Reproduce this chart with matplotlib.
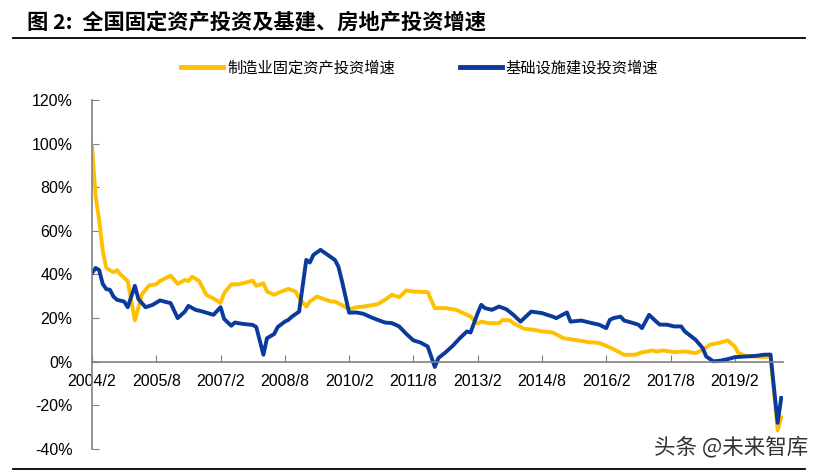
import matplotlib
matplotlib.use("Agg")
import matplotlib.pyplot as plt
from matplotlib.lines import Line2D

plt.rcParams['font.family'] = ['Liberation Sans', 'Noto Sans CJK SC', 'DejaVu Sans']

# 制造业固定资产投资增速 (累计同比, %)
mfg_dates = [
    "2004-02", "2004-03", "2004-04", "2004-05", "2004-06", "2004-07", "2004-08", "2004-09",
    "2004-10", "2004-12", "2005-02", "2005-03", "2005-04", "2005-06", "2005-08", "2005-09",
    "2005-12", "2006-02", "2006-04", "2006-05", "2006-06", "2006-08", "2006-10", "2006-12",
    "2007-02", "2007-03", "2007-05", "2007-07", "2007-09", "2007-11", "2007-12", "2008-02",
    "2008-03", "2008-05", "2008-07", "2008-09", "2008-11", "2008-12", "2009-02", "2009-03",
    "2009-05", "2009-07", "2009-09", "2009-10", "2009-12", "2010-02", "2010-04", "2010-06",
    "2010-10", "2010-12", "2011-02", "2011-04", "2011-06", "2011-08", "2011-12", "2012-02",
    "2012-05", "2012-08", "2012-10", "2012-12", "2013-02", "2013-03", "2013-05", "2013-08",
    "2013-09", "2013-11", "2013-12", "2014-03", "2014-06", "2014-08", "2014-11", "2015-02",
    "2015-05", "2015-09", "2015-12", "2016-02", "2016-04", "2016-07", "2016-10", "2016-12",
    "2017-03", "2017-04", "2017-06", "2017-09", "2017-12", "2018-03", "2018-04", "2018-06",
    "2018-07", "2018-10", "2018-12", "2019-02", "2019-03", "2019-05", "2019-08", "2019-10",
    "2019-12", "2020-02", "2020-03",
]
mfg_vals = [
    99.0, 76.0, 65.0, 51.0, 43.0, 42.0, 41.0, 42.0,
    40.0, 37.0, 19.0, 25.0, 31.0, 35.0, 35.5, 37.0,
    39.5, 35.7, 37.5, 37.0, 39.0, 37.0, 30.7, 29.0,
    27.0, 31.5, 35.5, 35.5, 36.3, 37.2, 34.8, 36.0,
    32.2, 30.7, 32.2, 33.4, 32.2, 29.2, 25.3, 27.6,
    29.9, 28.7, 27.6, 27.6, 26.0, 24.0, 25.0, 25.3,
    26.4, 28.4, 30.7, 29.6, 32.7, 32.2, 31.9, 24.6,
    24.6, 23.8, 22.3, 20.7, 17.5, 18.4, 17.7, 17.7,
    19.2, 19.0, 17.7, 15.1, 14.6, 13.9, 13.4, 10.8,
    10.1, 9.0, 8.6, 7.3, 5.8, 3.2, 3.2, 4.3,
    5.2, 4.7, 5.2, 4.4, 4.7, 4.0, 4.7, 6.5,
    7.8, 8.8, 9.8, 7.0, 4.0, 2.7, 2.4, 2.1,
    2.5, -31.5, -25.5,
]

# 基础设施建设投资增速 (累计同比, %)
infra_dates = [
    "2004-02", "2004-03", "2004-04", "2004-05", "2004-06", "2004-07", "2004-08", "2004-09",
    "2004-11", "2004-12", "2005-02", "2005-03", "2005-05", "2005-07", "2005-09", "2005-12",
    "2006-02", "2006-04", "2006-05", "2006-07", "2006-09", "2006-12", "2007-02", "2007-03",
    "2007-05", "2007-06", "2007-08", "2007-11", "2007-12", "2008-02", "2008-03", "2008-05",
    "2008-06", "2008-08", "2008-09", "2008-10", "2008-12", "2009-02", "2009-03", "2009-04",
    "2009-06", "2009-08", "2009-10", "2009-11", "2009-12", "2010-02", "2010-04", "2010-06",
    "2010-08", "2010-10", "2010-12", "2011-02", "2011-04", "2011-06", "2011-08", "2011-10",
    "2011-12", "2012-02", "2012-03", "2012-05", "2012-07", "2012-09", "2012-11", "2012-12",
    "2013-02", "2013-03", "2013-04", "2013-06", "2013-08", "2013-10", "2013-12", "2014-02",
    "2014-04", "2014-05", "2014-08", "2014-11", "2014-12", "2015-03", "2015-04", "2015-07",
    "2015-10", "2015-12", "2016-02", "2016-03", "2016-04", "2016-06", "2016-07", "2016-09",
    "2016-11", "2016-12", "2017-02", "2017-04", "2017-05", "2017-07", "2017-09", "2017-11",
    "2017-12", "2018-03", "2018-05", "2018-06", "2018-08", "2018-10", "2018-12", "2019-02",
    "2019-05", "2019-08", "2019-10", "2019-12", "2020-02", "2020-03",
]
infra_vals = [
    40.6, 43.0, 42.0, 35.7, 33.3, 33.0, 29.9, 28.4,
    27.6, 25.0, 34.8, 28.7, 25.0, 26.1, 28.1, 26.9,
    20.0, 23.0, 25.6, 23.8, 23.0, 21.5, 25.0, 19.6,
    16.5, 18.0, 17.4, 16.9, 15.9, 3.2, 10.8, 12.7,
    15.9, 18.4, 19.2, 20.7, 23.0, 46.7, 45.5, 49.0,
    51.3, 49.0, 46.7, 43.6, 37.0, 22.5, 22.6, 22.0,
    20.5, 19.2, 18.0, 17.7, 16.2, 12.8, 9.8, 8.8,
    7.0, -2.4, 1.7, 4.3, 7.3, 10.8, 13.9, 13.4,
    22.3, 26.1, 24.6, 23.8, 25.3, 24.1, 21.5, 18.4,
    21.5, 23.0, 22.3, 20.7, 20.0, 22.6, 18.4, 18.9,
    17.7, 17.0, 15.4, 19.2, 20.0, 20.7, 18.9, 18.0,
    17.0, 15.4, 21.5, 18.4, 17.0, 17.0, 16.2, 16.2,
    13.9, 10.1, 6.3, 2.4, 0.2, 0.5, 1.2, 2.1,
    2.4, 2.7, 3.2, 3.3, -28.0, -16.6,
]

tick_labels = ["2004/2", "2005/8", "2007/2", "2008/8", "2010/2", "2011/8",
               "2013/2", "2014/8", "2016/2", "2017/8", "2019/2"]
y_ticks = [-40, -20, 0, 20, 40, 60, 80, 100, 120]

YELLOW = "#FFC000"
BLUE = "#0A3A9C"
GREY = "#808080"
CJK = ["Noto Sans CJK SC", "DejaVu Sans"]


def month_index(s):
    s = s.replace("/", "-")
    y, m = s.split("-")
    return (int(y) - 2004) * 12 + int(m) - 2


mfg_x = [month_index(d) for d in mfg_dates]
infra_x = [month_index(d) for d in infra_dates]

fig = plt.figure(figsize=(8.23, 4.71), dpi=100)
ax = fig.add_axes([0.1118, 0.0467, 0.8396, 0.741])

ax.plot(mfg_x, mfg_vals, color=YELLOW, lw=2.8, solid_joinstyle="round")
ax.plot(infra_x, infra_vals, color=BLUE, lw=2.8, solid_joinstyle="round")

ax.set_xlim(0, 193.5)
ax.set_ylim(-40, 120)
ax.set_yticks(y_ticks)
ax.set_yticklabels([f"{v}%" for v in y_ticks])
ax.set_xticks([month_index(t) for t in tick_labels])
ax.set_xticklabels(tick_labels)

for side in ["top", "right"]:
    ax.spines[side].set_visible(False)
ax.spines["bottom"].set_position(("data", 0))
for side in ["left", "bottom"]:
    ax.spines[side].set_color(GREY)
    ax.spines[side].set_linewidth(1.2)
ax.tick_params(axis="both", direction="in", length=5, color=GREY, labelsize=11.5,
               labelcolor="black")
ax.tick_params(axis="x", pad=9)
ax.tick_params(axis="y", pad=14)

# title and rules
fig.text(0.033, 0.953, "图 2:  全国固定资产投资及基建、房地产投资增速", fontsize=15.3,
         fontweight="bold", va="center", ha="left", family=CJK)
fig.add_artist(Line2D([0.016, 0.978], [0.919, 0.919], color="black", lw=1.3))
fig.add_artist(Line2D([0.016, 0.978], [0.004, 0.004], color="black", lw=1.3))

handles = [Line2D([], [], color=YELLOW, lw=3.5), Line2D([], [], color=BLUE, lw=3.5)]
fig.legend(handles, ["制造业固定资产投资增速", "基础设施建设投资增速"],
           loc="center", bbox_to_anchor=(0.510, 0.856), ncol=2, frameon=False,
           handlelength=2.75, handletextpad=0.26, columnspacing=4.25,
           prop={"family": CJK, "size": 11})

fig.text(0.982, 0.051, "头条 @未来智库", fontsize=15.5, color="#333333", ha="right",
         va="center", family=CJK)

fig.savefig("out.png", dpi=100)
